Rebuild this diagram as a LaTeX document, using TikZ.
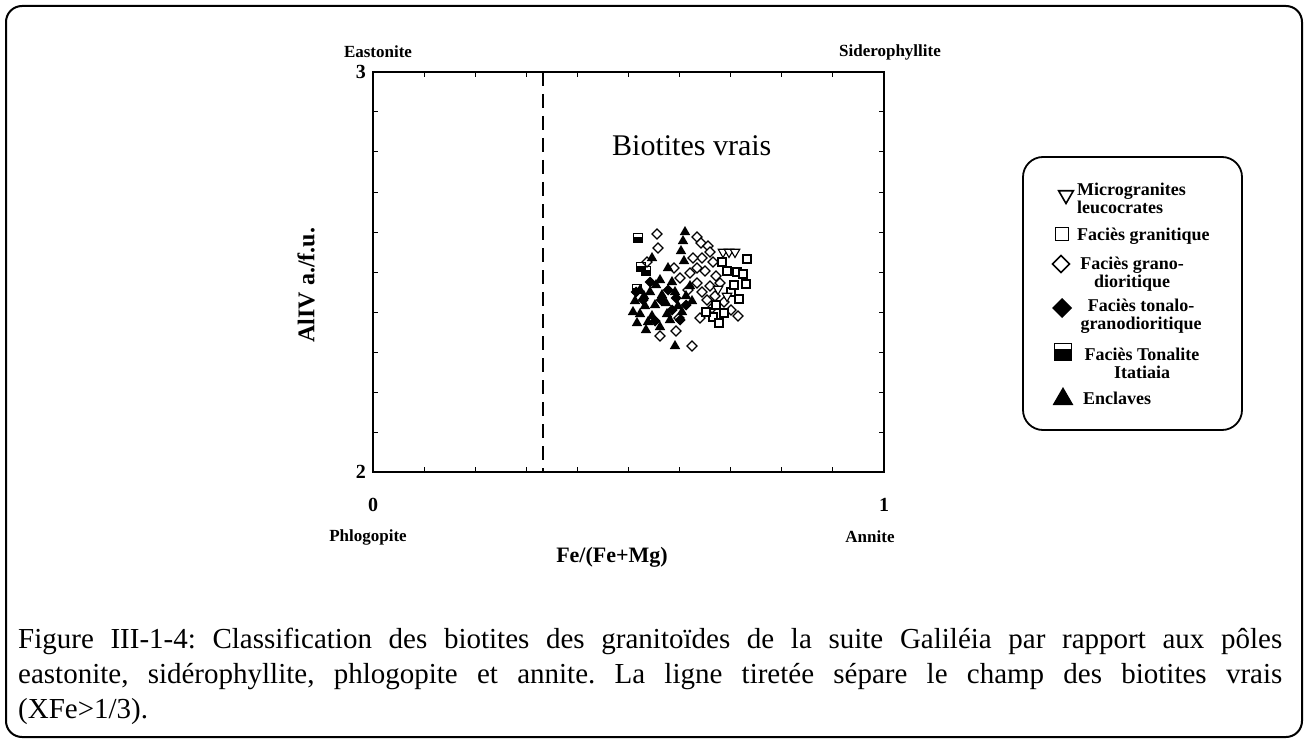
\documentclass[tikz,border=0pt]{standalone}
\usepackage{fontspec}
\setmainfont{Liberation Serif}
\usetikzlibrary{shapes.geometric}
\frenchspacing
\begin{document}
\begin{tikzpicture}[x=1pt,y=-1pt,
  mk/.style={inner sep=0pt, outer sep=0pt, line width=1.1pt},
  tri/.style={mk, regular polygon, regular polygon sides=3, fill=black, minimum size=12pt},
  dtri/.style={mk, regular polygon, regular polygon sides=3, shape border rotate=180, draw, fill=white, minimum size=11pt},
  sq/.style={mk, rectangle, draw, fill=white, minimum size=8pt},
  dia/.style={mk, diamond, draw, fill=white, minimum size=10pt},
  fdia/.style={mk, diamond, fill=black, minimum size=11pt},
  hsq/.style={mk, rectangle, draw, minimum size=9pt,
    path picture={\fill[black] (path picture bounding box.south west) rectangle ([yshift=-0.35*\pgfkeysvalueof{/pgf/minimum height}]path picture bounding box.north east);}},
  axl/.style={inner sep=0pt, font=\fontsize{17}{19}\selectfont\bfseries},
  num/.style={inner sep=0pt, font=\fontsize{20}{22}\selectfont\bfseries},
  leg/.style={inner sep=0pt, font=\fontsize{18}{18}\selectfont\bfseries},
  capt/.style={inner sep=0pt, anchor=base west, font=\fontsize{29}{35}\selectfont},
  tick/.style={line width=1pt}
]
\useasboundingbox (0,0) rectangle (1307,741);
% outer frame
\draw[line width=2pt, rounded corners=16pt] (6,6) rectangle (1302,737);
% plot frame
\coordinate (pSW) at (373,472);
\coordinate (pNE) at (884,72);
\draw[line width=1.3pt] (pSW) rectangle (pNE);
\foreach \i in {1,...,9}{
  \draw[tick] (373+51.1*\i,472) -- ++(0,-5);
  \draw[tick] (373+51.1*\i,72) -- ++(0,5);
  \draw[tick] (373,72+40*\i) -- ++(5,0);
  \draw[tick] (884,72+40*\i) -- ++(-5,0);
}
% dashed separator XFe = 1/3
\coordinate (dTop) at (543.3,72);
\coordinate (dBot) at (543.3,472);
\draw[line width=2.2pt, dash pattern=on 14pt off 8pt] (dTop) -- (dBot);
% axis labels
\node[axl] (east) at (378,52) {Eastonite};
\node[axl] (sid) at (890,52) {Siderophyllite};
\node[axl] (phl) at (368,537) {Phlogopite};
\node[axl] (ann) at (870,537) {Annite};
\node[num, anchor=east] (n3) at (366,72) {3};
\node[num, anchor=east] (n2) at (366,472) {2};
\node[num] (n0) at (373,505) {0};
\node[num] (n1) at (884,505) {1};
\node[inner sep=0pt, font=\fontsize{22}{24}\selectfont\bfseries] (xlab) at (612,557) {Fe/(Fe+Mg)};
\node[inner sep=0pt, rotate=90, font=\fontsize{24}{26}\selectfont\bfseries] (ylab) at (306,285) {AlIV a./f.u.};
\node[inner sep=0pt, anchor=base west, font=\fontsize{30}{32}\selectfont] (bv) at (612,156) {Biotites vrais};
% data
\foreach \x/\y [count=\i] in {657/234, 697/237, 701/243, 708/246, 710/252, 702/258, 693/258, 697/268, 690/273, 713/262, 705/271, 716/276, 697/283, 710/286, 720/283, 702/292, 707/300, 715/296, 712/308, 724/302, 731/310, 738/316, 674/268, 679/318, 676/331, 660/336, 692/346, 647/262, 700/318, 688/290, 658/248, 680/278}
  \node[dia] (d\i) at (\x,\y) {};
\foreach \x/\y [count=\i] in {747/259, 737/272, 743/274, 746/284, 727/271, 713/317, 719/323, 716/305, 724/313, 731/292, 722/262, 739/299, 706/312, 734/285}
  \node[sq] (s\i) at (\x,\y) {};
\foreach \x/\y [count=\i] in {723/252, 729/252, 735/252, 727/296, 718/289}
  \node[dtri] (v\i) at (\x,\y) {};
\foreach \x/\y [count=\i] in {685/232, 683/241, 681/251, 684/261, 652/258, 668/268, 660/280, 640/290, 650/292, 662/295, 675/292, 686/296, 635/301, 645/306, 655/305, 666/303, 678/306, 640/314, 652/316, 667/314, 682/312, 637/323, 646/330, 660/327, 675/346, 690/286, 692/301, 672/282, 633/312, 656/285, 644/296, 670/320, 648/322}
  \node[tri] (t\i) at (\x,\y) {};
\foreach \x/\y [count=\i] in {650/282, 661/300, 672/310, 643/300, 668/290, 680/320, 655/321, 636/292, 676/298, 686/305}
  \node[fdia] (f\i) at (\x,\y) {};
\foreach \x/\y [count=\i] in {638/238, 641/267, 637/289, 646/271}
  \node[hsq] (h\i) at (\x,\y) {};
% legend
\draw[line width=1.8pt, rounded corners=20pt] (1023,157) rectangle (1242,430);
\node[dtri, minimum size=17pt, line width=1.6pt] (L1) at (1066,195) {};
\node[sq, minimum size=13pt, line width=1.5pt] (L2) at (1062,234) {};
\node[dia, minimum size=17pt, line width=1.5pt] (L3) at (1061,264) {};
\node[fdia, minimum size=20pt] (L4) at (1062,308) {};
\node[hsq, minimum size=17pt, line width=1.5pt] (L5) at (1063,352) {};
\node[tri, minimum size=24pt] (L6) at (1063,399) {};
\node[leg, anchor=west, align=left] (T1) at (1077,198) {Microgranites\\leucocrates};
\node[leg, anchor=west] (T2) at (1077,236) {Faciès granitique};
\node[leg, align=center] (T3) at (1132,274) {Faciès grano-\\dioritique};
\node[leg, align=center] (T4) at (1141,316) {Faciès tonalo-\\granodioritique};
\node[leg, align=center] (T5) at (1142,363) {Faciès Tonalite\\Itatiaia};
\node[leg, anchor=west] (T6) at (1083,398) {Enclaves};
% caption
\node[capt] (c1) at (18,648) {\makebox[1264pt][s]{Figure III-1-4: Classification des biotites des granitoïdes de la suite Galiléia par rapport aux pôles}};
\node[capt] (c2) at (18,683) {\makebox[1264pt][s]{eastonite, sidérophyllite, phlogopite et annite. La ligne tiretée sépare le champ des biotites vrais}};
\node[capt] (c3) at (18,718) {(XFe>1/3).};
\end{tikzpicture}
\end{document}
